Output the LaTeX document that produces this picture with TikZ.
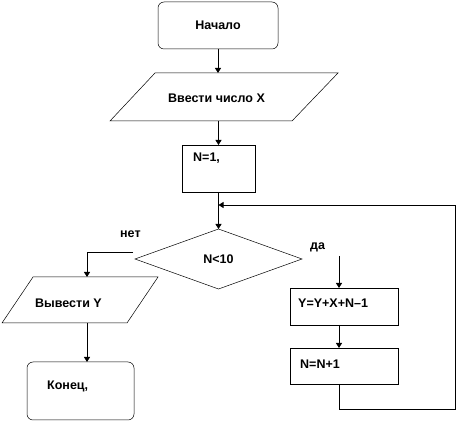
\documentclass[tikz,border=0pt]{standalone}
\usepackage{fontspec}
\setmainfont{Liberation Sans}
\usetikzlibrary{shapes.geometric,arrows.meta}
\tikzset{
  shp/.style={draw=black, line width=0.5pt, inner sep=0pt, outer sep=0pt,
    font=\fontsize{12.5}{14}\selectfont\bfseries},
  rbox/.style={shp, rectangle, rounded corners=6pt},
  pbox/.style={shp, rectangle},
  iobox/.style={draw=black, line width=0.5pt, line join=miter},
  dbox/.style={shp, diamond},
  lab/.style={inner sep=0pt, anchor=west, font=\fontsize{12.5}{14}\selectfont\bfseries},
  conn/.style={draw=black, line width=0.8pt},
  arr/.style={conn, -{Triangle[length=5pt,width=6pt]}}
}
\begin{document}
\begin{tikzpicture}[x=1pt,y=-1pt]
\useasboundingbox (0,0) rectangle (459,422);
% shapes
\node[rbox, minimum width=120pt, minimum height=47pt] (start) at (218,25.5) {Начало};
% input parallelogram
\coordinate (in-tl) at (155,73);
\coordinate (in-tr) at (338,73);
\coordinate (in-br) at (292,121);
\coordinate (in-bl) at (110,121);
\draw[iobox] (in-tl) -- (in-tr) -- (in-br) -- (in-bl) -- cycle;
\node[lab] (inputt) at (168,98) {Ввести число X};
\node[pbox, minimum width=73pt, minimum height=47pt] (n1) at (218.5,168.5) {};
\node[lab] (n1t) at (193,158) {N=1,};
\node[dbox, minimum width=167pt, minimum height=60pt] (cond) at (218.5,259) {N<10};
% output parallelogram
\coordinate (out-tl) at (33,277);
\coordinate (out-tr) at (158,277);
\coordinate (out-br) at (127,323);
\coordinate (out-bl) at (2,323);
\draw[iobox] (out-tl) -- (out-tr) -- (out-br) -- (out-bl) -- cycle;
\node[lab] (outyt) at (35,303) {Вывести Y};
\node[rbox, minimum width=107pt, minimum height=58pt] (end) at (80.5,391) {};
\node[lab] (endt) at (47,386) {Конец,};
\node[pbox, minimum width=108pt, minimum height=37pt] (calc) at (344,306.5) {};
\node[lab] (calct) at (298,303) {Y=Y+X+N–1};
\node[pbox, minimum width=108pt, minimum height=36pt] (inc) at (344,366) {};
\node[lab] (inct) at (300,364) {N=N+1};
\node[lab] (no) at (120,234) {нет};
\node[lab] (yes) at (310,247) {да};
% helper coordinates
\coordinate (lx) at (87,252);
\coordinate (ys) at (339,256);
\coordinate (lbr) at (455,409);
\coordinate (ltop) at (455,205);
% connectors
\draw[arr] (start.south) -- (start.south |- in-tl);
\draw[arr] (in-bl -| n1.north) -- (n1.north);
\draw[arr] (n1.south) -- (cond.north);
\draw[arr] ([xshift=-2pt]cond.west |- lx) -- (lx) -- (lx |- out-tl);
\draw[arr] (out-bl -| lx) -- (lx |- end.north);
\draw[arr] (ys) -- (ys |- calc.north);
\draw[arr] (calc.south -| ys) -- (ys |- inc.north);
\draw[arr] (inc.south -| ys) |- (lbr) -- (ltop) -- (ltop -| n1.south);
\end{tikzpicture}
\end{document}
